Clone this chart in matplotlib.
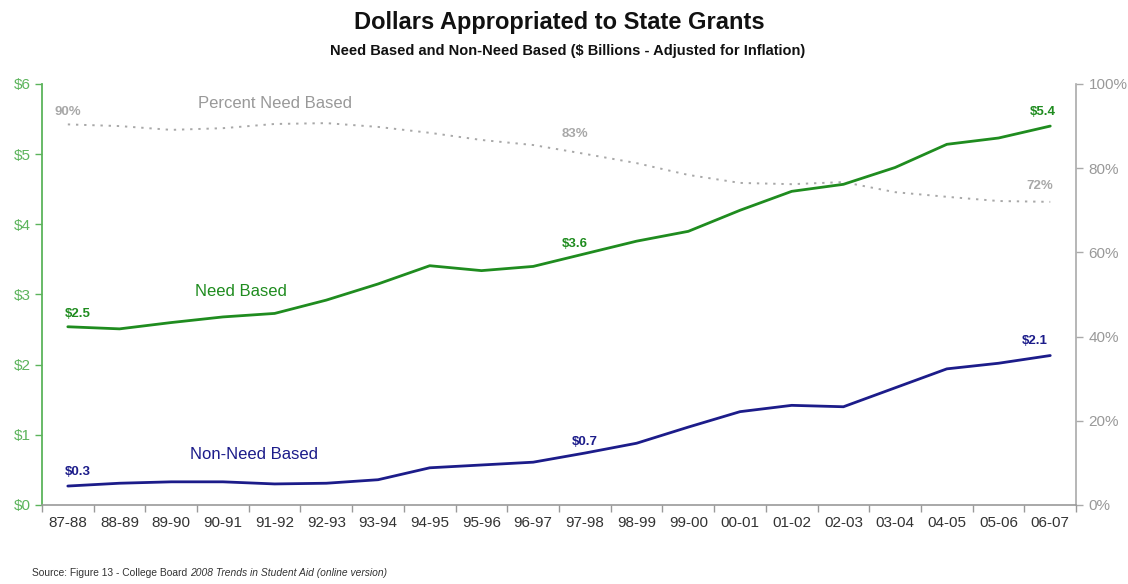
import matplotlib
matplotlib.use("Agg")
import matplotlib.pyplot as plt
import numpy as np

plt.rcParams['font.family'] = ['Liberation Sans', 'DejaVu Sans']

years = ["87-88", "88-89", "89-90", "90-91", "91-92", "92-93", "93-94", "94-95",
         "95-96", "96-97", "97-98", "98-99", "99-00", "00-01", "01-02", "02-03",
         "03-04", "04-05", "05-06", "06-07"]
need_based = [2.54, 2.51, 2.60, 2.68, 2.73, 2.92, 3.15, 3.41, 3.34, 3.40,
              3.58, 3.76, 3.90, 4.20, 4.47, 4.57, 4.81, 5.14, 5.23, 5.40]
non_need_based = [0.27, 0.31, 0.33, 0.33, 0.30, 0.31, 0.36, 0.53, 0.57, 0.61,
                  0.74, 0.88, 1.11, 1.33, 1.42, 1.40, 1.67, 1.94, 2.02, 2.13]
pct_need = [90.4, 90.0, 89.1, 89.5, 90.5, 90.7, 89.8, 88.4, 86.7, 85.5,
            83.4, 81.2, 78.4, 76.5, 76.2, 76.7, 74.3, 73.2, 72.2, 72.0]
dollar_ticks = [0, 1, 2, 3, 4, 5, 6]
pct_ticks = [0, 20, 40, 60, 80, 100]

GREEN = "#1f8c1f"
GREEN_LIGHT = "#5cb45c"
NAVY = "#1c1c8a"
GRAY = "#a8a8a8"
TXT = "#333333"

fig = plt.figure(figsize=(11.28, 5.84), dpi=100)
ax = fig.add_axes([0.0372, 0.1353, 0.9168, 0.7209])
ax2 = ax.twinx()
ax.set_zorder(ax2.get_zorder() + 1)
ax.patch.set_visible(False)

x = np.arange(len(years))

ax.plot(x, need_based, color=GREEN, lw=2.0, solid_capstyle='round')
ax.plot(x, non_need_based, color=NAVY, lw=2.0, solid_capstyle='round')
ax2.plot(x, pct_need, color=GRAY, lw=1.4, linestyle=(0, (1.2, 3.0)))

ax.set_xlim(-0.5, len(years) - 0.5)
ax.set_ylim(0, 6)
ax2.set_ylim(0, 100)

# Category labels at the centres, tick marks at the boundaries
ax.set_xticks(x)
ax.set_xticklabels(years, fontsize=11, color=TXT)
ax.set_xticks(np.arange(-0.5, len(years)), minor=True)
ax.tick_params(axis='x', which='major', length=0, pad=8)
ax.tick_params(axis='x', which='minor', length=5, color='#999999', width=1)

ax.set_yticks(dollar_ticks)
ax.set_yticklabels([f"${v}" for v in dollar_ticks], fontsize=11, color=GREEN_LIGHT)
ax.tick_params(axis='y', length=5, color=GREEN_LIGHT, width=1, pad=3)

ax2.set_yticks(pct_ticks)
ax2.set_yticklabels([f"{v}%" for v in pct_ticks], fontsize=11, color="#999999")
ax2.tick_params(axis='y', length=5, color='#aaaaaa', width=1, pad=4)

for a in (ax, ax2):
    a.spines['top'].set_visible(False)
ax.spines['right'].set_visible(False)
ax.spines['left'].set_color(GREEN_LIGHT)
ax.spines['left'].set_linewidth(1.3)
ax.spines['bottom'].set_color('#999999')
ax.spines['bottom'].set_linewidth(1.2)
ax2.spines['left'].set_visible(False)
ax2.spines['bottom'].set_visible(False)
ax2.spines['right'].set_color('#aaaaaa')
ax2.spines['right'].set_linewidth(1.2)

# Value callouts
def dlabel(i, series, color, dy=0.20, dx=0.0):
    ax.text(x[i] + dx, series[i] + dy, f"${series[i]:.1f}", color=color,
            fontsize=9.5, fontweight='bold', ha='center', va='bottom')

dlabel(0, need_based, GREEN, dy=0.10, dx=0.2)
dlabel(10, need_based, GREEN, dy=0.06, dx=-0.2)
dlabel(19, need_based, GREEN, dy=0.12, dx=-0.15)
dlabel(0, non_need_based, NAVY, dy=0.12, dx=0.2)
dlabel(10, non_need_based, NAVY, dy=0.07)
dlabel(19, non_need_based, NAVY, dy=0.12, dx=-0.3)

for i, dx, dy in [(0, 0.0, 1.5), (10, -0.2, 3.3), (19, -0.2, 2.4)]:
    ax2.text(x[i] + dx, pct_need[i] + dy, f"{pct_need[i]:.0f}%", color=GRAY,
             fontsize=9.5, fontweight='bold', ha='center', va='bottom')

# Series names
ax.text(3.35, 3.04, "Need Based", color=GREEN, fontsize=12, ha='center', va='center')
ax.text(3.6, 0.72, "Non-Need Based", color=NAVY, fontsize=12, ha='center', va='center')
ax2.text(4.0, 95.3, "Percent Need Based", color="#999999", fontsize=12, ha='center', va='center')

fig.text(0.496, 0.962, "Dollars Appropriated to State Grants", fontsize=17,
         fontweight='bold', ha='center', va='center', color='#111111')
fig.text(0.503, 0.913, "Need Based and Non-Need Based ($ Billions - Adjusted for Inflation)",
         fontsize=10.5, fontweight='bold', ha='center', va='center', color='#111111')

# Source line: plain part followed directly by the italic title
src = fig.text(0.028, 0.010, "Source: Figure 13 - College Board ", fontsize=7.4,
               ha='left', va='bottom', color=TXT)
fig.canvas.draw()
bb = src.get_window_extent(renderer=fig.canvas.get_renderer())
fig.text(bb.x1 / fig.bbox.width, 0.010, "2008 Trends in Student Aid (online version)",
         fontsize=7.4, style='italic', ha='left', va='bottom', color=TXT)

fig.savefig("out.png", dpi=100, facecolor='white')
